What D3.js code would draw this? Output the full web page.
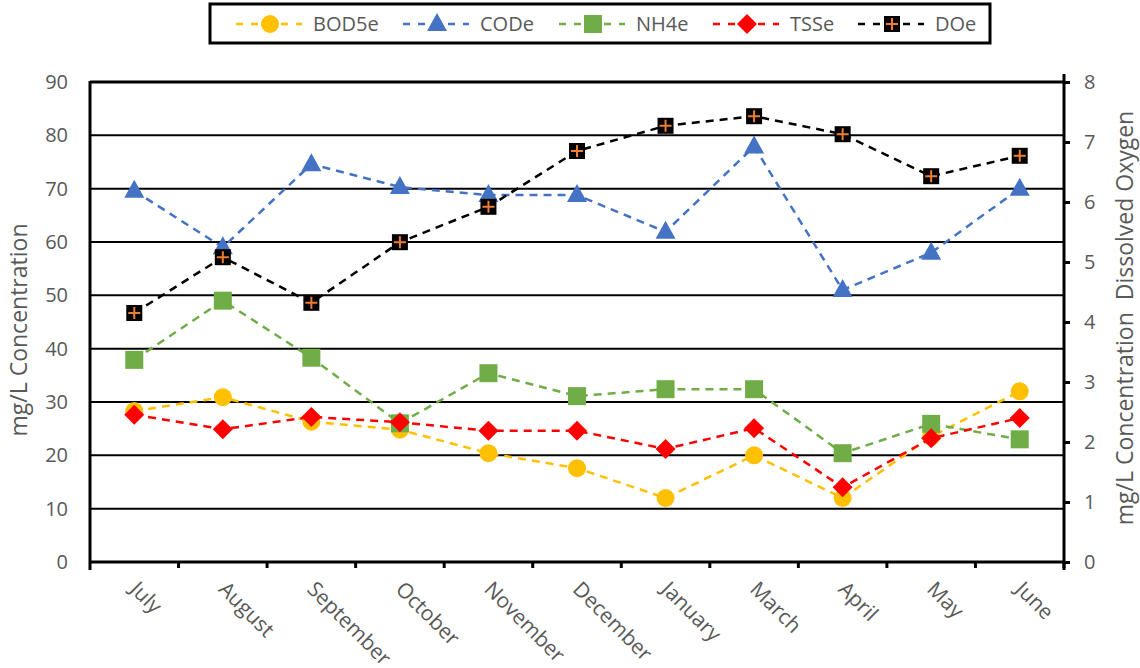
<!DOCTYPE html>
<html><head><meta charset="utf-8">
<script src="https://cdn.jsdelivr.net/npm/d3@7"></script>
<style>body{margin:0;background:#fff}svg{display:block}text{font-family:"Open Sans",sans-serif}</style>
</head><body><svg id="c" width="1140" height="668"></svg>
<script>
const months = ["July","August","September","October","November","December","January","March","April","May","June"];
const bod5e = [28.3,30.9,26.3,24.8,20.4,17.6,12.0,20.0,12.0,23.5,32.0];
const code = [69.6,59.0,74.6,70.3,68.8,68.8,61.9,77.9,51.0,58.0,70.0];
const nh4e = [37.9,49.0,38.3,26.0,35.4,31.1,32.4,32.4,20.4,25.9,23.0];
const tsse = [27.6,24.9,27.2,26.2,24.6,24.6,21.2,25.1,14.0,23.2,27.0];
const doe = [4.15,5.08,4.32,5.33,5.92,6.85,7.27,7.43,7.13,6.43,6.77];
const leftTicks = [0,10,20,30,40,50,60,70,80,90];
const rightTicks = [0,1,2,3,4,5,6,7,8];

const svg = d3.select("#c");
const L=90,R=1064,T=82,B=562;
const x = d3.scaleBand().domain(months).range([L,R]);
const yL = d3.scaleLinear().domain([0,90]).range([B,T]);
const yR = d3.scaleLinear().domain([0,8]).range([B,T]);
const grey="#595959";

// gridlines
svg.append("g").selectAll("line").data(leftTicks.filter(d=>d>0)).join("line")
  .attr("x1",L).attr("x2",R).attr("y1",d=>yL(d)).attr("y2",d=>yL(d))
  .attr("stroke","#000").attr("stroke-width",2);

// left axis
const gl = svg.append("g").attr("transform",`translate(${L},0)`)
  .call(d3.axisLeft(yL).tickValues(leftTicks).tickSize(0).tickPadding(22));
gl.select(".domain").remove();
gl.selectAll("text").attr("fill",grey).style("font-size","20px");
svg.append("line").attr("x1",L).attr("x2",L).attr("y1",T-1).attr("y2",B+8).attr("stroke","#000").attr("stroke-width",3);

// right axis
const gr = svg.append("g").attr("transform",`translate(${R},0)`)
  .call(d3.axisRight(yR).tickValues(rightTicks).tickSize(6).tickPadding(14));
gr.select(".domain").remove();
gr.selectAll("line").attr("stroke","#000").attr("stroke-width",3);
gr.selectAll("text").attr("fill",grey).style("font-size","20px");
svg.append("line").attr("x1",R).attr("x2",R).attr("y1",T-8).attr("y2",B+8).attr("stroke","#000").attr("stroke-width",3);

// top border
svg.append("line").attr("x1",L).attr("x2",R).attr("y1",T).attr("y2",T).attr("stroke","#000").attr("stroke-width",3);

// bottom axis
const gb = svg.append("g").attr("transform",`translate(0,${B})`)
  .call(d3.axisBottom(x).tickSize(0));
gb.select(".domain").remove();
gb.selectAll(".tick text").remove();
svg.append("g").selectAll("line").data(months).join("line")
  .attr("x1",d=>x(d)+x.bandwidth()).attr("x2",d=>x(d)+x.bandwidth()).attr("y1",B).attr("y2",B+6)
  .attr("stroke","#000").attr("stroke-width",3);
svg.append("line").attr("x1",L).attr("x2",R).attr("y1",B).attr("y2",B).attr("stroke","#000").attr("stroke-width",3);
gb.selectAll(".tick").append("text")
  .attr("transform","translate(5,18) rotate(45)")
  .attr("text-anchor","start").attr("dy","0.7em")
  .attr("fill",grey).style("font-size","21px").text(d=>d);

// axis titles
svg.append("text").attr("transform",`translate(27,330) rotate(-90)`).attr("text-anchor","middle")
  .attr("fill",grey).style("font-size","23px").text("mg/L Concentration");
svg.append("text").attr("transform",`translate(1133,318) rotate(-90)`).attr("text-anchor","middle")
  .attr("fill",grey).style("font-size","23px").style("white-space","pre")
  .text("mg/L Concentration  Dissolved Oxygen");

// markers
function marker(g, type, color, cx, cy){
  if(type==="circle") g.append("circle").attr("cx",cx).attr("cy",cy).attr("r",9).attr("fill",color);
  else if(type==="triangle") g.append("path").attr("d",`M${cx},${cy-11}L${cx+10},${cy+7}L${cx-10},${cy+7}Z`).attr("fill",color);
  else if(type==="square") g.append("rect").attr("x",cx-9).attr("y",cy-9).attr("width",18).attr("height",18).attr("fill",color);
  else if(type==="diamond") g.append("path").attr("d",`M${cx},${cy-10}L${cx+10},${cy}L${cx},${cy+10}L${cx-10},${cy}Z`).attr("fill",color);
  else if(type==="plus"){
    g.append("rect").attr("x",cx-8).attr("y",cy-8).attr("width",16).attr("height",16).attr("fill","#000");
    g.append("path").attr("d",`M${cx-6},${cy}H${cx+6}M${cx},${cy-6}V${cy+6}`).attr("stroke","#ED7D31").attr("stroke-width",2);
  }
}
const series = [
  {name:"BOD5e",vals:bod5e,color:"#FFC000",type:"circle",y:yL},
  {name:"CODe",vals:code,color:"#4472C4",type:"triangle",y:yL},
  {name:"NH4e",vals:nh4e,color:"#70AD47",type:"square",y:yL},
  {name:"TSSe",vals:tsse,color:"#FF0000",type:"diamond",y:yL},
  {name:"DOe",vals:doe,color:"#000000",type:"plus",y:yR}
];
const cx = i => x(months[i])+x.bandwidth()/2;
series.forEach(s=>{
  const g = svg.append("g");
  const line = d3.line().x((d,i)=>cx(i)).y(d=>s.y(d));
  g.append("path").attr("d",line(s.vals)).attr("fill","none").attr("stroke",s.color)
    .attr("stroke-width",2.5).attr("stroke-dasharray","8,6");
  s.vals.forEach((v,i)=>marker(g,s.type,s.color,cx(i),s.y(v)));
});

// legend
svg.append("rect").attr("x",210).attr("y",4).attr("width",780).attr("height",39)
  .attr("fill","#fff").attr("stroke","#000").attr("stroke-width",3);
const legX = [236,403,559,713,858];
series.forEach((s,i)=>{
  const g = svg.append("g");
  const x0 = legX[i];
  g.append("line").attr("x1",x0).attr("x2",x0+66).attr("y1",24).attr("y2",24)
    .attr("stroke",s.color).attr("stroke-width",2.5).attr("stroke-dasharray","7,8");
  marker(g,s.type,s.color,x0+34,24);
  g.append("text").attr("x",x0+77).attr("y",24).attr("dy","0.35em").attr("fill",grey)
    .style("font-size","20px").text(s.name);
});
</script></body></html>
